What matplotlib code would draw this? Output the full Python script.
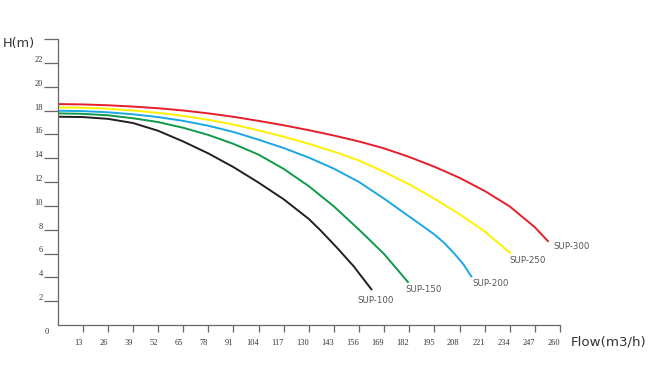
import matplotlib
matplotlib.use("Agg")
import matplotlib.pyplot as plt
from matplotlib.transforms import ScaledTranslation

# ---- data ----
series_names = ["SUP-100", "SUP-150", "SUP-200", "SUP-250", "SUP-300"]

flow_100 = [0, 13, 26, 39, 52, 65, 78, 91, 104, 117, 130, 136, 144.5, 153.1, 162.7]
head_100 = [17.48, 17.45, 17.3, 16.95, 16.3, 15.4, 14.4, 13.25, 11.95, 10.55, 8.9, 7.95, 6.5, 4.95, 2.93]

flow_150 = [0, 13, 26, 39, 52, 65, 78, 91, 104, 117, 130, 143, 156, 169, 181.6]
head_150 = [17.76, 17.72, 17.6, 17.35, 17.03, 16.55, 15.95, 15.2, 14.3, 13.1, 11.65, 9.95, 8.0, 5.95, 3.55]

flow_200 = [0, 13, 26, 39, 52, 65, 78, 91, 104, 117, 130, 143, 156, 169, 182, 195, 200, 205, 210, 214.4]
head_200 = [17.98, 17.95, 17.85, 17.68, 17.45, 17.13, 16.72, 16.2, 15.55, 14.85, 14.05, 13.12, 12.0,
            10.6, 9.1, 7.6, 6.9, 6.05, 5.1, 4.0]

flow_250 = [0, 13, 26, 39, 52, 65, 78, 91, 104, 117, 130, 143, 156, 169, 182, 195, 208, 221, 234.6]
head_250 = [18.26, 18.23, 18.15, 18.0, 17.8, 17.55, 17.22, 16.82, 16.33, 15.8, 15.2, 14.55, 13.8,
            12.85, 11.8, 10.6, 9.3, 7.85, 6.0]

flow_300 = [0, 13, 26, 39, 52, 65, 78, 91, 104, 117, 130, 143, 156, 169, 182, 195, 208, 221, 234,
            247, 254.1]
head_300 = [18.54, 18.51, 18.44, 18.33, 18.19, 18.0, 17.76, 17.47, 17.13, 16.76, 16.35, 15.9, 15.4,
            14.82, 14.1, 13.28, 12.35, 11.25, 9.95, 8.2, 6.98]

x_ticks = [13, 26, 39, 52, 65, 78, 91, 104, 117, 130, 143, 156, 169, 182, 195, 208, 221, 234, 247, 260]
y_ticks = [2, 4, 6, 8, 10, 12, 14, 16, 18, 20, 22, 24]
y_tick_labels = ["2", "4", "6", "8", "10", "12", "14", "16", "18", "20", "22", ""]

# ---- styling ----
colors = ["#231f20", "#0e9a48", "#1ba6e4", "#fff000", "#e61e2a"]
label_offsets_px = [(-15, -10), (-3, -7), (0, -6), (-2, -7), (5, -5)]

flows = [flow_100, flow_150, flow_200, flow_250, flow_300]
heads = [head_100, head_150, head_200, head_250, head_300]

W, H = 659, 372
fig = plt.figure(figsize=(W / 100, H / 100), dpi=100)
ax = fig.add_axes([57.6 / W, 47 / H, (560 - 57.6) / W, 286 / H])

for f, h, c, name, (dx, dy) in zip(flows, heads, colors, series_names, label_offsets_px):
    ax.plot(f, h, color=c, lw=1.4, solid_capstyle="butt", solid_joinstyle="round")
    ax.annotate(name, xy=(f[-1], h[-1]), xytext=(dx * 0.72, dy * 0.72),
                textcoords="offset points", ha="left", va="center",
                fontsize=6.2, color="#555555", family="DejaVu Sans")

ax.set_xlim(0, 260)
ax.set_ylim(0, 24)

for s in ["top", "right"]:
    ax.spines[s].set_visible(False)
for s in ["left", "bottom"]:
    ax.spines[s].set_color("#666666")
    ax.spines[s].set_linewidth(0.9)

ax.set_xticks(x_ticks)
ax.set_xticklabels([str(v) for v in x_ticks], family="Liberation Serif",
                   fontsize=6, color="#333333", ha="right")
ax.set_yticks(y_ticks)
ax.set_yticklabels(y_tick_labels, family="Liberation Serif",
                   fontsize=6, color="#333333")

ax.tick_params(axis="x", direction="out", length=5, width=0.9, color="#666666", pad=5)
ax.tick_params(axis="y", direction="out", length=10, width=0.9, color="#666666", pad=0.5)

shift_up = ScaledTranslation(0, 4 / 100, fig.dpi_scale_trans)
for lab in ax.get_yticklabels():
    lab.set_transform(lab.get_transform() + shift_up)

# origin "0" label
fig.text(47 / W, 1 - 332 / H, "0", family="Liberation Serif", fontsize=6,
         color="#333333", ha="center", va="center")

# axis titles
fig.text(2.5 / W, 1 - 43 / H, "H(m)", fontsize=9.3, color="#333333",
         ha="left", va="center", family="DejaVu Sans")
fig.text(571 / W, 1 - 342 / H, "Flow(m3/h)", fontsize=9.6, color="#333333",
         ha="left", va="center", family="DejaVu Sans")

fig.savefig("out.png", dpi=100)
